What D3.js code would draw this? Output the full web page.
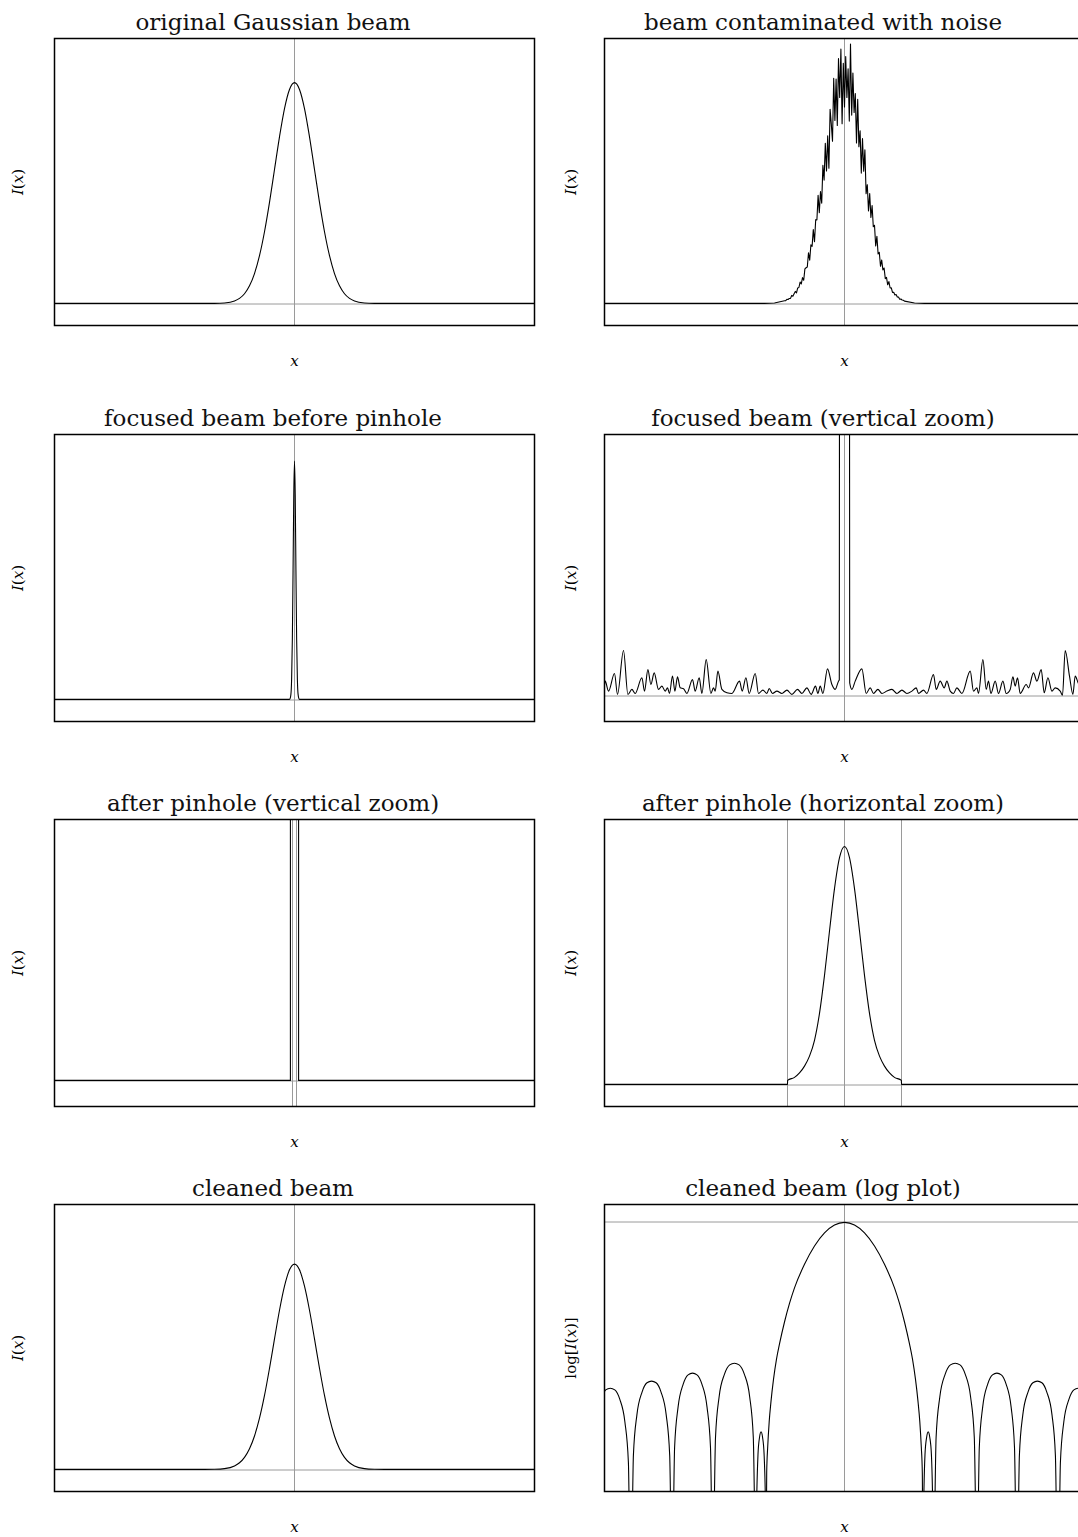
<!DOCTYPE html>
<html><head><meta charset="utf-8">
<script src="https://cdn.jsdelivr.net/npm/d3@7"></script>
<style>body{margin:0;background:#fff}svg{display:block}</style>
</head><body>
<svg id="c" width="1078" height="1537"></svg>
<script>
// ---------------- DATA ----------------
const titles = ["original Gaussian beam","beam contaminated with noise","focused beam before pinhole","focused beam (vertical zoom)","after pinhole (vertical zoom)","after pinhole (horizontal zoom)","cleaned beam","cleaned beam (log plot)"];

// panel 1: original Gaussian beam
const gaussX = [-24,-9,-8,-7,-6,-5.5,-5,-4.5,-4,-3.5,-3,-2.5,-2,-1.5,-1,-0.5,0,0.5,1,1.5,2,2.5,3,3.5,4,4.5,5,5.5,6,7,8,9,24];
const gaussY = [0,0,0.0003,0.0022,0.0111,0.0228,0.0439,0.0796,0.1353,0.2163,0.3247,0.4578,0.6065,0.7548,0.8825,0.969,1,0.969,0.8825,0.7548,0.6065,0.4578,0.3247,0.2163,0.1353,0.0796,0.0439,0.0228,0.0111,0.0022,0.0003,0,0];

// panel 2: beam contaminated with noise (dense samples between -6 and 6)
const noisyLeftX = [-24,-9,-8,-7];
const noisyLeftY = [0,0,0.0003,0.0022];
const noisyGridStart = -6, noisyGridStep = 0.12;
const noisyY = [0.0122,0.0122,0.0182,0.0179,0.0226,0.0230,0.0362,0.0323,0.0439,0.0543,
 0.0477,0.0699,0.0721,0.0970,0.0883,0.1169,0.1048,0.1563,0.1615,0.1649,
 0.2296,0.1959,0.2657,0.2584,0.3347,0.2792,0.3794,0.3782,0.4895,0.4114,
 0.5063,0.4543,0.6251,0.5587,0.7254,0.6003,0.7589,0.6123,0.8797,0.8123,
 0.7351,1.0199,0.8288,1.0163,0.8061,1.109,0.9327,1.1518,0.8141,1.088,
 0.89,1.118,0.9332,1.0626,0.8259,1.175,0.853,1.0438,0.8645,0.9507,
 0.7267,0.9249,0.71,0.782,0.5903,0.747,0.5993,0.6954,0.4967,0.5379,
 0.4186,0.4973,0.3891,0.4438,0.3475,0.3539,0.2607,0.3042,0.2243,0.2311,
 0.1682,0.1968,0.152,0.1605,0.1123,0.118,0.0844,0.0987,0.0698,0.0705,
 0.0499,0.0504,0.0385,0.0402,0.0292,0.0287,0.0191,0.0199,0.0155,0.0144,0.0105];
const noisyRightX = [7,8,9,24];
const noisyRightY = [0.0022,0.0003,0,0];

// panel 3: focused beam before pinhole
const focusX = [-24,-0.6,-0.48,-0.36,-0.288,-0.216,-0.144,-0.072,0,0.072,0.144,0.216,0.288,0.36,0.48,0.6,24];
const focusY = [0,0,0.001,0.023,0.091,0.269,0.583,0.926,1.08,0.926,0.583,0.269,0.091,0.023,0.001,0,0];

// panel 4: focused beam, vertical zoom (noise floor + clipped central peak)
const zoomX = [-24,-23.93,-23.6,-23.0,-22.7,-22.1,-21.66,-21.26,-20.93,-20.26,-20.0,-19.66,-19.36,-19.03,-18.6,-18.26,-17.93,-17.7,-17.5,-17.2,-16.96,-16.7,-16.43,-16.1,-15.76,-15.2,-14.93,-14.53,-14.26,-13.83,-13.36,-13.1,-12.93,-12.66,-12.26,-11.76,-11.26,-10.5,-10.23,-9.86,-9.53,-8.93,-8.6,-8.16,-7.76,-7.53,-7.2,-6.76,-6.26,-5.76,-5.26,-4.7,-4.26,-3.76,-3.33,-2.9,-2.66,-2.43,-2.16,-1.7,-1.26,-0.93,-0.6,-0.52,-0.5,-0.3,0,0.3,0.5,0.52,0.74,1.07,1.74,2.17,2.57,2.9,3.34,3.74,4.24,4.74,5.24,5.74,6.24,6.74,7.17,7.4,7.9,8.24,8.9,9.17,9.57,9.97,10.24,10.57,10.9,11.24,11.74,12.57,12.9,13.24,13.4,13.84,14.17,14.4,14.64,15.07,15.4,15.84,16.17,16.57,16.84,17.07,17.3,17.57,18.17,18.4,18.9,19.24,19.67,19.97,20.34,20.74,21.07,21.57,21.8,22.07,22.5,22.84,23.07,23.37,24];
const zoomY = [0.04,0.0547,0.0165,0.084,0.004,0.172,0.004,0.023,0.0076,0.0674,0.0165,0.099,0.042,0.0865,0.023,0.0356,0.0165,0.029,0.0076,0.0738,0.0165,0.0712,0.029,0.0254,0.0076,0.061,0.0165,0.0674,0.0076,0.137,0.0076,0.029,0.0165,0.093,0.023,0.0102,0.0076,0.0547,0.0165,0.0674,0.0076,0.084,0.0076,0.0204,0.0076,0.0267,0.0076,0.0165,0.0076,0.0204,0.004,0.023,0.0076,0.029,0.004,0.0356,0.0076,0.0356,0.0076,0.1018,0.042,0.023,0.0547,0.06,1.5,20,50,20,1.5,0.0483,0.023,0.0547,0.1018,0.0076,0.029,0.0076,0.023,0.0076,0.0165,0.023,0.0076,0.0204,0.0076,0.0165,0.029,0.0076,0.0204,0.0076,0.08,0.023,0.0547,0.029,0.0547,0.0165,0.0076,0.029,0.0076,0.093,0.0165,0.029,0.0076,0.137,0.023,0.0547,0.0076,0.0547,0.0076,0.0547,0.0076,0.023,0.0712,0.0356,0.0674,0.0076,0.042,0.029,0.0865,0.0547,0.099,0.0102,0.0674,0.0165,0.029,0.0165,0.001,0.172,0.0738,0.004,0.0738,0.048,0.02];

// panel 5: after pinhole, vertical zoom
const pinX = [-24,-0.41,-0.4,0,0.4,0.41,24];
const pinY = [0,0,30,60,30,0,0];
const pinEdges = [-0.2,0.2];

// panel 6: after pinhole, horizontal zoom
const pinZoomX = [-24,-5.7,-5.69,-5,-4.5,-4,-3.5,-3,-2.5,-2,-1.5,-1,-0.5,0,0.5,1,1.5,2,2.5,3,3.5,4,4.5,5,5.69,5.7,24];
const pinZoomY = [0,0,0.018,0.032,0.052,0.083,0.128,0.2,0.322,0.494,0.695,0.887,1.027,1.078,1.027,0.887,0.695,0.494,0.322,0.2,0.128,0.083,0.052,0.032,0.018,0,0];
const pinZoomEdges = [-5.7,0,5.7];

// panel 7: cleaned beam
const cleanX = [-24,-9,-8,-7,-6,-5.5,-5,-4.5,-4,-3.5,-3,-2.5,-2,-1.5,-1,-0.5,0,0.5,1,1.5,2,2.5,3,3.5,4,4.5,5,5.5,6,7,8,9,24];
const cleanY = [0,0,0.0007,0.0036,0.0157,0.0301,0.0547,0.0937,0.1516,0.232,0.335,0.458,0.591,0.721,0.83,0.904,0.93,0.904,0.83,0.721,0.591,0.458,0.335,0.232,0.1516,0.0937,0.0547,0.0301,0.0157,0.0036,0.0007,0,0];

// panel 8: cleaned beam, log plot
const logX = [-24,-23.88,-23.425,-22.97,-22.475,-21.96,-21.61,-21.44,-21.36,
 -21.28,-21.11,-20.76,-20.245,-19.75,-19.295,-18.84,-18.345,-17.83,-17.48,-17.31,-17.23,
 -17.15,-16.99,-16.64,-16.13,-15.64,-15.195,-14.75,-14.26,-13.75,-13.40,-13.24,-13.16,
 -13.07,-12.90,-12.54,-12.0,-11.48,-11.01,-10.54,-10.02,-9.48,-9.12,-8.95,-8.86,
 -8.78,-8.65,-8.50,-8.345,-8.19,-8.04,-7.91,-7.835,
 -7.78,-7.68,-7.53,-7.35,-7.1,-6.8,-6.5,-6,-5.5,-5,-4,-3,-2,-1,0,1,2,3,4,5,5.5,6,6.5,6.8,7.1,7.35,7.53,7.68,7.78,7.84,
 7.925,8.05,8.21,8.37,8.53,8.69,8.815,8.9,
 8.99,9.16,9.53,10.07,10.59,11.07,11.55,12.07,12.61,12.98,13.15,13.24,
 13.32,13.48,13.82,14.32,14.80,15.24,15.68,16.16,16.66,17.0,17.16,17.24,
 17.32,17.49,17.83,18.35,18.84,19.29,19.74,20.23,20.75,21.09,21.26,21.34,
 21.42,21.59,21.93,22.45,22.94,23.39,23.84,24];
const logY = [-10.08,-9.98,-9.88,-9.98,-10.53,-11.88,-14.28,-19.88,-20,
 -19.46,-13.86,-11.46,-10.11,-9.56,-9.46,-9.56,-10.11,-11.46,-13.86,-19.46,-20,
 -18.99,-13.39,-10.99,-9.64,-9.09,-8.99,-9.09,-9.64,-10.99,-13.39,-18.99,-20,
 -18.40,-12.80,-10.40,-9.05,-8.50,-8.40,-8.50,-9.05,-10.40,-12.80,-18.40,-20,
 -16.5,-13.8,-12.8,-12.47,-12.8,-13.8,-16.5,-20,
 -14.86,-13.36,-11.86,-10.66,-9.36,-8.16,-7.26,-5.96,-4.86,-3.935,-2.54,-1.455,-0.68,-0.215,-0.06,-0.215,-0.68,-1.455,-2.54,-3.935,-4.86,-5.96,-7.26,-8.16,-9.36,-10.66,-11.86,-13.36,-14.86,-20,
 -16.5,-13.8,-12.8,-12.47,-12.8,-13.8,-16.5,-20,
 -18.40,-12.80,-10.40,-9.05,-8.50,-8.40,-8.50,-9.05,-10.40,-12.80,-18.40,-20,
 -18.99,-13.39,-10.99,-9.64,-9.09,-8.99,-9.09,-9.64,-10.99,-13.39,-18.99,-20,
 -19.46,-13.86,-11.46,-10.11,-9.56,-9.46,-9.56,-10.11,-11.46,-13.86,-19.46,-20,
 -19.88,-14.28,-11.88,-10.53,-9.98,-9.88,-9.98,-10.08];

// ---------------- DRAWING ----------------
const FW = 480, FH = 287;
const colX = [54.5, 604.5];
const rowY = [38.5, 434.5, 819.5, 1204.5];
const yLabelOff = [31.5, 28.5];
const serif = "'DejaVu Serif', 'Liberation Serif', serif";

const noisyX = noisyY.map((_, i) => noisyGridStart + i * noisyGridStep);

const panels = [
  {xs: gaussX, ys: gaussY, yd: [-0.1, 1.2], v: [0], h: [0], yl: "I"},
  {xs: noisyLeftX.concat(noisyX, noisyRightX), ys: noisyLeftY.concat(noisyY, noisyRightY), yd: [-0.1, 1.2], v: [0], h: [0], yl: "I", linear: true},
  {xs: focusX, ys: focusY, yd: [-0.1, 1.2], v: [0], h: [0], yl: "I"},
  {xs: zoomX, ys: zoomY, yd: [-0.1, 1.0], v: [0], h: [0], yl: "I"},
  {xs: pinX, ys: pinY, yd: [-0.1, 1.0], v: pinEdges, h: [0], yl: "I", linear: true},
  {xs: pinZoomX, ys: pinZoomY, yd: [-0.1, 1.2], v: pinZoomEdges, h: [0], yl: "I"},
  {xs: cleanX, ys: cleanY, yd: [-0.1, 1.2], v: [0], h: [0], yl: "I"},
  {xs: logX, ys: logY, yd: [-16, 1], v: [0], h: [0], yl: "log"}
];

const svg = d3.select("#c");
const defs = svg.append("defs");

panels.forEach((p, i) => {
  const col = i % 2, row = Math.floor(i / 2);
  const g = svg.append("g").attr("transform", `translate(${colX[col]},${rowY[row]})`);
  const x = d3.scaleLinear().domain([-24, 24]).range([0, FW]);
  const y = d3.scaleLinear().domain(p.yd).range([FH, 0]);
  defs.append("clipPath").attr("id", "clip" + i)
    .append("rect").attr("x", 0).attr("y", 0).attr("width", FW).attr("height", FH);
  const inner = g.append("g").attr("clip-path", `url(#clip${i})`);
  p.v.forEach(v => inner.append("line")
    .attr("x1", x(v)).attr("x2", x(v)).attr("y1", 0).attr("y2", FH)
    .attr("stroke", "#9a9a9a").attr("stroke-width", 1));
  p.h.forEach(hv => inner.append("line")
    .attr("x1", 0).attr("x2", FW).attr("y1", Math.round(y(hv)) + 0.5).attr("y2", Math.round(y(hv)) + 0.5)
    .attr("stroke", "#9a9a9a").attr("stroke-width", 1));
  const line = d3.line().x(d => x(d[0])).y(d => y(d[1]))
    .curve(p.linear ? d3.curveLinear : d3.curveMonotoneX);
  inner.append("path").datum(d3.zip(p.xs, p.ys)).attr("d", line)
    .attr("fill", "none").attr("stroke", "#000").attr("stroke-width", 1.1)
    .attr("stroke-linejoin", "round");
  g.append("rect").attr("x", 0).attr("y", 0).attr("width", FW).attr("height", FH)
    .attr("fill", "none").attr("stroke", "#000").attr("stroke-width", 1.5);
  // title
  g.append("text").attr("x", FW / 2 - 21.5).attr("y", -9)
    .attr("text-anchor", "middle").attr("font-family", serif).attr("font-size", 23)
    .attr("fill", "#111").text(titles[i]);
  // x label
  g.append("text").attr("x", FW / 2).attr("y", FH + 40)
    .attr("text-anchor", "middle").attr("font-family", serif).attr("font-style", "italic")
    .attr("font-size", 15).text("x");
  // y label
  const yl = g.append("text")
    .attr("transform", `translate(${-yLabelOff[col]},${FH / 2}) rotate(-90)`)
    .attr("text-anchor", "middle").attr("font-family", serif).attr("font-size", 15);
  if (p.yl === "log") {
    yl.append("tspan").text("log[");
    yl.append("tspan").attr("font-style", "italic").text("I");
    yl.append("tspan").text("(");
    yl.append("tspan").attr("font-style", "italic").text("x");
    yl.append("tspan").text(")]");
  } else {
    yl.append("tspan").attr("font-style", "italic").text("I");
    yl.append("tspan").text("(");
    yl.append("tspan").attr("font-style", "italic").text("x");
    yl.append("tspan").text(")");
  }
});
</script>
</body></html>
